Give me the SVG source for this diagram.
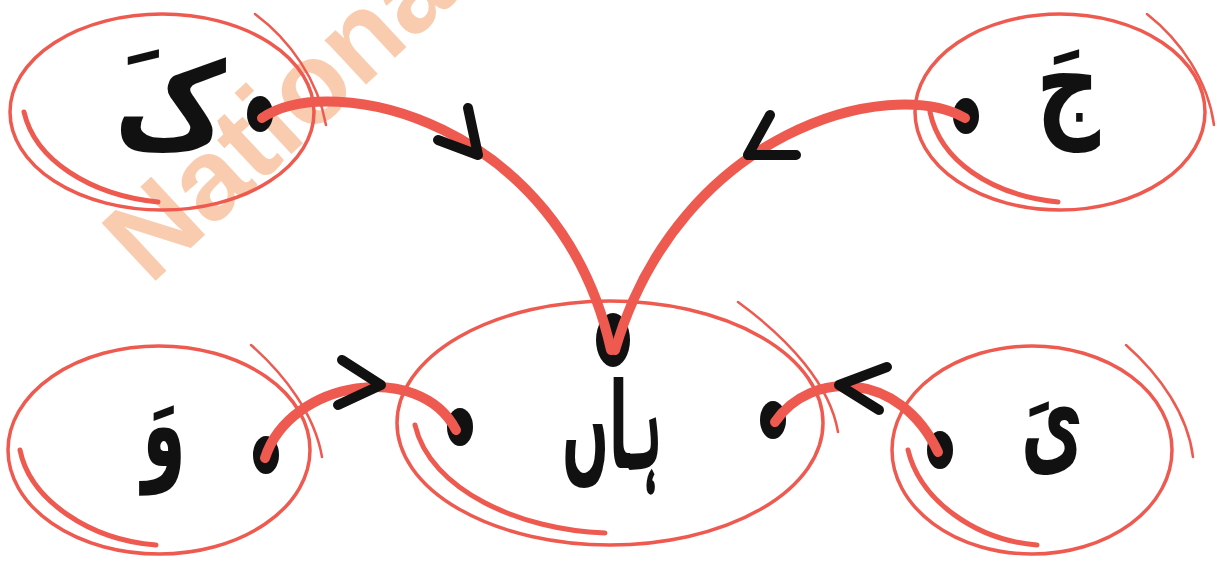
<svg xmlns="http://www.w3.org/2000/svg" width="1217" height="561" viewBox="0 0 1217 561">
<style>
.ring{fill:none;stroke:#ee5a4f;stroke-width:3.5}
.sk{fill:none;stroke:#ee5a4f;stroke-width:2.5;stroke-linecap:round}
.skt{fill:none;stroke:#ee5a4f;stroke-width:5;stroke-linecap:round}
.edge{fill:none;stroke:#ee5a4f;stroke-width:10;stroke-linecap:round}
.chev{fill:none;stroke:#111;stroke-width:10;stroke-linecap:round;stroke-linejoin:round}
.dot{fill:#111}
.lbl{font-family:"DejaVu Sans",sans-serif;font-weight:bold;font-size:120px;fill:#111;text-anchor:middle}
.wm{font-family:"Liberation Sans",Arial,sans-serif;font-weight:bold;font-size:115px;fill:#f8c4a2;opacity:0.85}
</style>
<text class="wm" transform="translate(150,286) rotate(-43)">National</text>
<g id="node-kaf">
<ellipse class="ring" cx="162" cy="112" rx="152" ry="98"/>
<path class="sk" d="M255,14 C290,40 318,80 326,125"/>
<path class="skt" d="M24,112 C35,160 90,195 158,202"/>
<text class="lbl" x="170" y="148" textLength="112" lengthAdjust="spacingAndGlyphs">کَ</text>
</g>
<g id="node-jeem">
<ellipse class="ring" cx="1060" cy="112" rx="145" ry="98"/>
<path class="sk" d="M1147,14 C1180,40 1208,80 1214,125"/>
<path class="skt" d="M930,112 C940,160 990,195 1058,202"/>
<text class="lbl" x="1068" y="124" textLength="64" lengthAdjust="spacingAndGlyphs">جَ</text>
</g>
<g id="node-haan">
<ellipse class="ring" cx="610" cy="423" rx="213" ry="122"/>
<path class="sk" d="M738,302 C790,340 830,385 838,432"/>
<path class="skt" d="M415,425 C430,490 520,530 605,533"/>
<text class="lbl" x="612" y="468" textLength="100" lengthAdjust="spacingAndGlyphs">ہاں</text>
</g>
<g id="node-waw">
<ellipse class="ring" cx="159" cy="450" rx="151" ry="104"/>
<path class="sk" d="M251,345 C285,375 315,415 322,457"/>
<path class="skt" d="M20,450 C30,500 90,540 156,545"/>
<text class="lbl" x="164" y="466" textLength="44" lengthAdjust="spacingAndGlyphs">وَ</text>
</g>
<g id="node-yeh">
<ellipse class="ring" cx="1032" cy="450" rx="140" ry="104"/>
<path class="sk" d="M1126,345 C1160,375 1188,415 1193,457"/>
<path class="skt" d="M908,450 C920,500 975,540 1037,545"/>
<text class="lbl" x="1052" y="462" textLength="62" lengthAdjust="spacingAndGlyphs">یَ</text>
</g>
<g id="connectors">
<ellipse class="dot" cx="260" cy="114" rx="13" ry="18"/>
<ellipse class="dot" cx="966" cy="116" rx="13" ry="18"/>
<ellipse class="dot" cx="613" cy="340" rx="17" ry="27"/>
<ellipse class="dot" cx="460" cy="427" rx="13" ry="19"/>
<ellipse class="dot" cx="773" cy="420" rx="13" ry="19"/>
<ellipse class="dot" cx="266" cy="455" rx="13" ry="19"/>
<ellipse class="dot" cx="940" cy="450" rx="13" ry="19"/>
<path class="edge" d="M262,118 C330,70 560,120 611,350"/>
<path class="edge" d="M965,118 C890,75 680,130 615,350"/>
<path class="edge" d="M265,458 C290,380 420,360 456,430"/>
<path class="edge" d="M775,422 C810,370 900,370 938,452"/>
<polyline class="chev" points="438,140 478,155 468,108"/>
<polyline class="chev" points="770,115 748,155 796,155"/>
<polyline class="chev" points="342,360 381,385 338,405"/>
<polyline class="chev" points="887,367 839,385 879,410"/>
</g>
</svg>
